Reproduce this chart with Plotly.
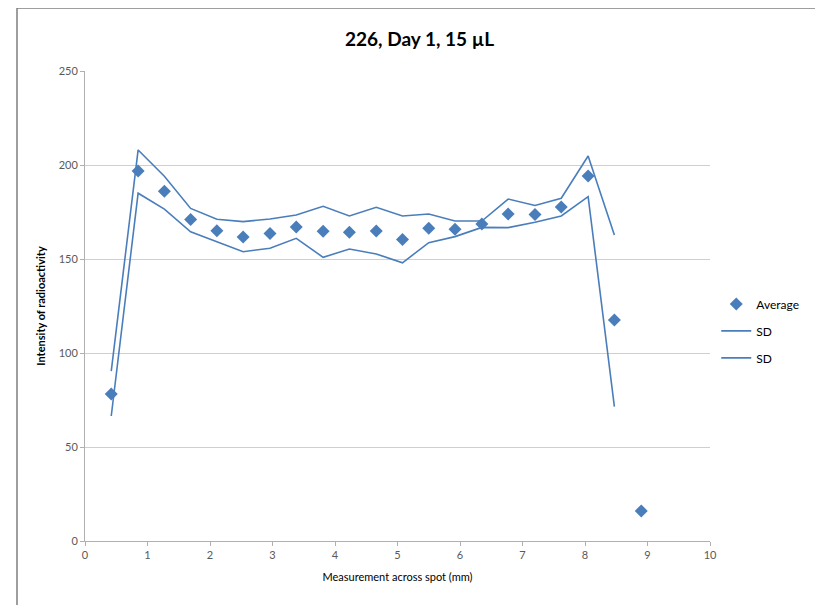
import plotly.graph_objects as go

x_mm = [0.42, 0.85, 1.27, 1.69, 2.11, 2.53, 2.96, 3.38, 3.81, 4.23, 4.66, 5.08, 5.50, 5.92,
        6.35, 6.77, 7.20, 7.62, 8.05, 8.47, 8.90]
average = [78.2, 196.8, 186.0, 171.0, 165.0, 161.7, 163.5, 167.0, 164.7, 164.2, 164.9, 160.4,
           166.3, 165.8, 168.6, 173.9, 173.7, 177.7, 194.1, 117.6, 16.0]
sd_upper = [90.4, 208.0, 194.0, 176.9, 171.1, 169.9, 171.3, 173.4, 178.0, 172.9, 177.5, 172.9,
            173.9, 170.2, 170.2, 181.9, 178.5, 182.3, 204.8, 162.8]
sd_lower = [66.5, 185.0, 176.5, 164.5, 159.2, 153.9, 155.7, 161.0, 150.9, 155.3, 152.7, 148.0,
            158.7, 161.9, 166.8, 166.7, 169.5, 172.9, 183.2, 71.5]

blue = "#4a7ebb"
font_family = "Lato, 'Open Sans', sans-serif"

fig = go.Figure()
fig.add_trace(go.Scatter(x=x_mm, y=average, mode="markers", name="Average", legendgroup="a",
                         marker=dict(symbol="diamond", size=10, color=blue)))
fig.add_trace(go.Scatter(x=x_mm[:len(sd_upper)], y=sd_upper, mode="lines", name="SD",
                         legendgroup="b", line=dict(color=blue, width=1.6)))
fig.add_trace(go.Scatter(x=x_mm[:len(sd_lower)], y=sd_lower, mode="lines", name="SD",
                         legendgroup="c", line=dict(color=blue, width=1.6)))

W, H = 815, 597
fig.update_layout(
    width=W, height=H,
    margin=dict(l=77, r=113, t=63, b=64),
    paper_bgcolor="white", plot_bgcolor="white",
    font=dict(family=font_family, color="#595959", size=11),
    title=dict(text="<b>226, Day 1, 15 µL</b>", x=0.505, xanchor="center",
               y=1 - 31 / H, yanchor="middle",
               font=dict(size=19, color="#000000", family=font_family)),
    xaxis=dict(range=[0, 10], dtick=1, showgrid=False, zeroline=False,
               showline=True, linecolor="#b0b0b0", linewidth=1,
               ticks="outside", ticklen=4, tickcolor="#b0b0b0",
               title=dict(text="Measurement across spot (mm)",
                          font=dict(size=11, color="#000000"), standoff=13)),
    yaxis=dict(range=[0, 250], dtick=50, showgrid=True, gridcolor="#cfcfcf",
               zeroline=False, showline=True, linecolor="#b0b0b0", linewidth=1,
               ticks="outside", ticklen=4, tickcolor="#b0b0b0",
               title=dict(text="<b>Intensity of radioactivity</b>",
                          font=dict(size=11, color="#000000"), standoff=10)),
    legend=dict(x=1.01, xanchor="left", y=0.447, yanchor="middle",
                font=dict(size=12, color="#000000"), tracegroupgap=8,
                traceorder="grouped", bgcolor="rgba(0,0,0,0)"),
    shapes=[dict(type="rect", xref="paper", yref="paper",
                 x0=(17 - 85) / 625, x1=1.5, y0=-0.3, y1=(541 - 8) / 470,
                 line=dict(color="#7f7f7f", width=1.5), layer="below")],
)

fig.write_html("out.html")
